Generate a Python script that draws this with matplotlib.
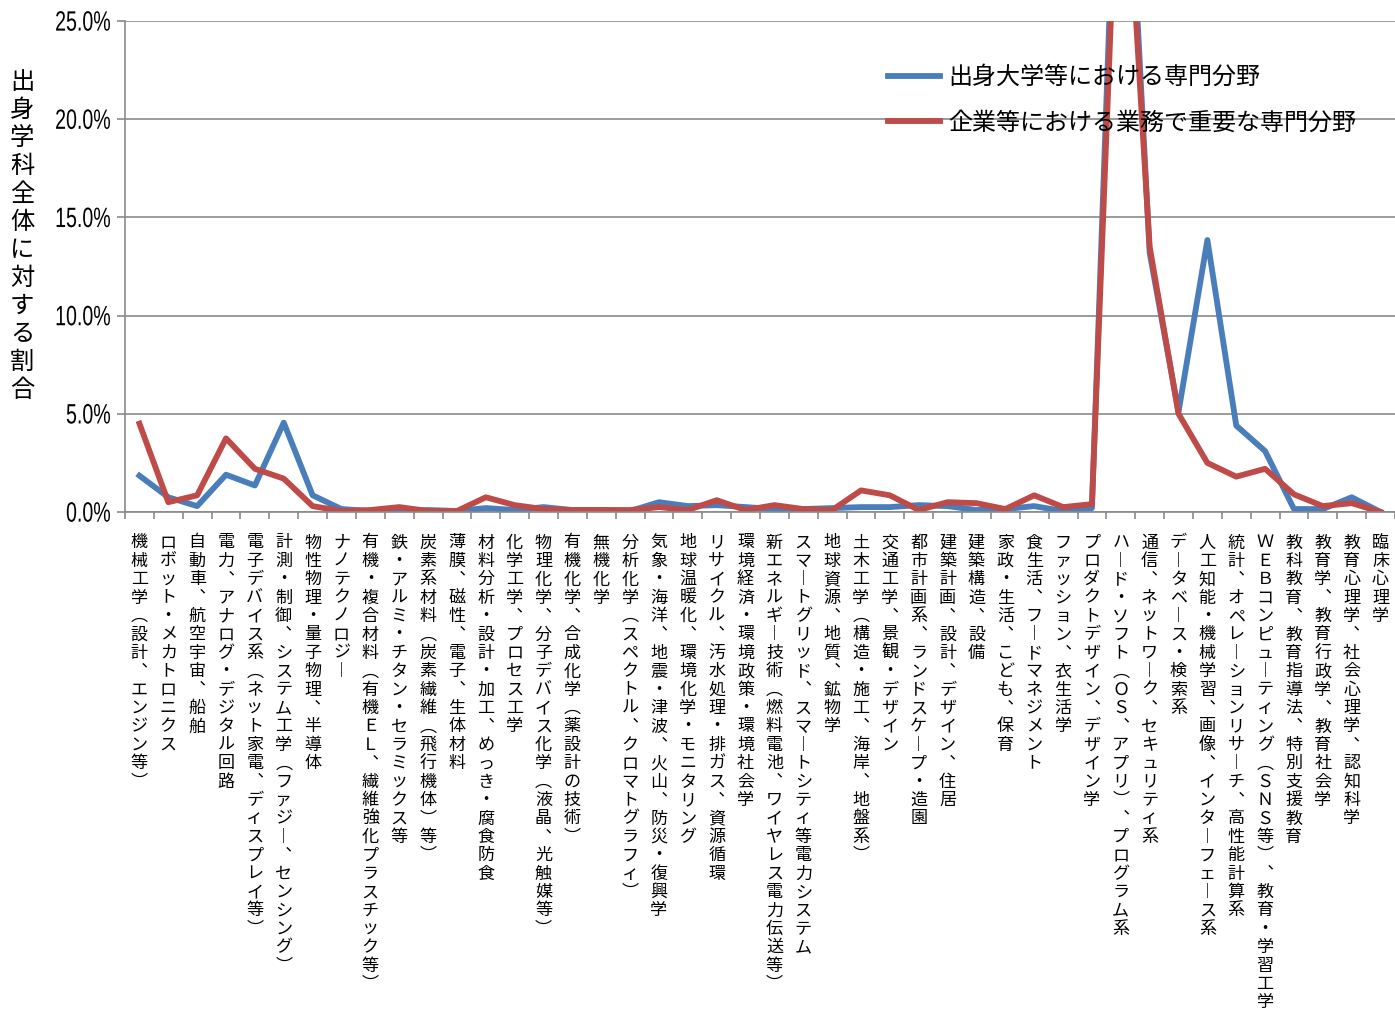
import numpy as np
import matplotlib
matplotlib.use("Agg")
import matplotlib.pyplot as plt
from matplotlib.textpath import TextPath
from matplotlib.patches import PathPatch
from matplotlib.font_manager import FontProperties
from matplotlib.transforms import Affine2D

plt.rcParams['font.family'] = ['Noto Sans CJK JP', 'DejaVu Sans']

# categories (x axis, written vertically)
categories = [
    "機械工学（設計、エンジン等）",
    "ロボット・メカトロニクス",
    "自動車、航空宇宙、船舶",
    "電力、アナログ・デジタル回路",
    "電子デバイス系（ネット家電、ディスプレイ等）",
    "計測・制御、システム工学（ファジー、センシング）",
    "物性物理・量子物理、半導体",
    "ナノテクノロジー",
    "有機・複合材料（有機ＥＬ、繊維強化プラスチック等）",
    "鉄・アルミ・チタン・セラミックス等",
    "炭素系材料（炭素繊維（飛行機体）等）",
    "薄膜、磁性、電子、生体材料",
    "材料分析・設計・加工、めっき・腐食防食",
    "化学工学、プロセス工学",
    "物理化学、分子デバイス化学（液晶、光触媒等）",
    "有機化学、合成化学（薬設計の技術）",
    "無機化学",
    "分析化学（スペクトル、クロマトグラフィ）",
    "気象・海洋、地震・津波、火山、防災・復興学",
    "地球温暖化、環境化学・モニタリング",
    "リサイクル、汚水処理・排ガス、資源循環",
    "環境経済・環境政策・環境社会学",
    "新エネルギー技術（燃料電池、ワイヤレス電力伝送等）",
    "スマートグリッド、スマートシティ等電力システム",
    "地球資源、地質、鉱物学",
    "土木工学（構造・施工、海岸、地盤系）",
    "交通工学、景観・デザイン",
    "都市計画系、ランドスケープ・造園",
    "建築計画、設計、デザイン、住居",
    "建築構造、設備",
    "家政・生活、こども、保育",
    "食生活、フードマネジメント",
    "ファッション、衣生活学",
    "プロダクトデザイン、デザイン学",
    "ハード・ソフト（ＯＳ、アプリ）、プログラム系",
    "通信、ネットワーク、セキュリティ系",
    "データベース・検索系",
    "人工知能・機械学習、画像、インターフェース系",
    "統計、オペレーションリサーチ、高性能計算系",
    "ＷＥＢコンピューティング（ＳＮＳ等）、教育・学習工学",
    "教科教育、教育指導法、特別支援教育",
    "教育学、教育行政学、教育社会学",
    "教育心理学、社会心理学、認知科学",
    "臨床心理学",
]

# share of each field (%)
univ_share = [1.85, 0.75, 0.3, 1.9, 1.35, 4.55, 0.85, 0.15, 0.05, 0.05,
              0.1, 0.05, 0.2, 0.1, 0.25, 0.1, 0.1, 0.05, 0.5, 0.3,
              0.35, 0.25, 0.15, 0.15, 0.2, 0.25, 0.25, 0.35, 0.3, 0.1,
              0.15, 0.3, 0.05, 0.2, 41.5, 13.2, 5.1, 13.85, 4.4, 3.1,
              0.15, 0.15, 0.75, 0.0]
work_share = [4.5, 0.5, 0.85, 3.75, 2.2, 1.7, 0.3, 0.05, 0.1, 0.25,
              0.05, 0.05, 0.75, 0.35, 0.15, 0.1, 0.1, 0.1, 0.25, 0.1,
              0.6, 0.1, 0.35, 0.15, 0.1, 1.1, 0.85, 0.1, 0.5, 0.45,
              0.15, 0.85, 0.25, 0.4, 38.0, 13.5, 5.0, 2.5, 1.8, 2.2,
              0.9, 0.3, 0.45, 0.0]

series_names = ["出身大学等における専門分野", "企業等における業務で重要な専門分野"]
y_title = "出身学科全体に対する割合"
y_ticks = [0, 5, 10, 15, 20, 25]

# vertical presentation forms for tategaki labels
vert_forms = {"（": "︵", "）": "︶", "ー": "︱", "、": "︑"}

W, H = 1395, 1014
fig = plt.figure(figsize=(W / 100, H / 100), dpi=100)
ax = fig.add_axes([125 / W, 1 - 512 / H, 1270 / W, 491 / H])

x = np.arange(len(categories))
ax.plot(x, univ_share, color="#4A7EBB", lw=4.2, label=series_names[0])
ax.plot(x, work_share, color="#BE4B48", lw=4.2, label=series_names[1])

ax.set_xlim(-0.5, len(categories) - 0.5)
ax.set_ylim(0, 25)
ax.set_yticks(y_ticks)
ax.set_yticklabels([])
ax.grid(axis="y", color="#8a8a8a", lw=1.2)
ax.set_axisbelow(True)

for s in ["top", "right"]:
    ax.spines[s].set_visible(False)
for s in ["left", "bottom"]:
    ax.spines[s].set_color("#8a8a8a")
    ax.spines[s].set_linewidth(1.2)

# ticks between categories, labels drawn by hand below
ax.set_xticks(np.arange(-0.5, len(categories)))
ax.set_xticklabels([])
ax.tick_params(axis="x", length=5, width=1.2, color="#8a8a8a")
ax.tick_params(axis="y", length=6, width=1.2, color="#8a8a8a")

# narrow percent labels (squeezed glyph outlines)
tick_prop = FontProperties(family="Liberation Sans")
x0 = ax.get_xlim()[0]
for v in y_ticks:
    tp = TextPath((0, 0), f"{v:.1f}%", size=28, prop=tick_prop)
    ext = tp.get_extents()
    xd, yd = ax.transData.transform((x0, v))
    tr = (Affine2D().translate(-ext.x1, -(ext.y0 + ext.y1) / 2)
          .scale(0.7, 1).translate(xd - 15, yd))
    fig.add_artist(PathPatch(tp, transform=tr, facecolor="black", lw=0))

fs = 12.3
for i, lab in enumerate(categories):
    for j, ch in enumerate(lab):
        ch = vert_forms.get(ch, ch)
        off = (29 + 18.4 * j) * 0.72 + 0.38 * fs
        ax.annotate(ch, xy=(i, 0), xycoords=("data", "axes fraction"),
                    xytext=(0, -off), textcoords="offset points",
                    ha="center", va="baseline", fontsize=fs,
                    annotation_clip=False)

# y axis title, stacked vertically
yfs = 17.5
for j, ch in enumerate(y_title):
    yc = 80 + 28 * j
    fig.text(22 / W, 1 - (yc + 0.38 * yfs / 0.72) / H, ch, ha="center",
             va="baseline", fontsize=yfs)

ax.legend(loc="upper left", bbox_to_anchor=(0.6008, 0.912), frameon=False,
          borderpad=0, borderaxespad=0, fontsize=17.3, handlelength=2.17,
          handletextpad=0.33, labelspacing=0.8)

fig.savefig("out.png", dpi=100)
